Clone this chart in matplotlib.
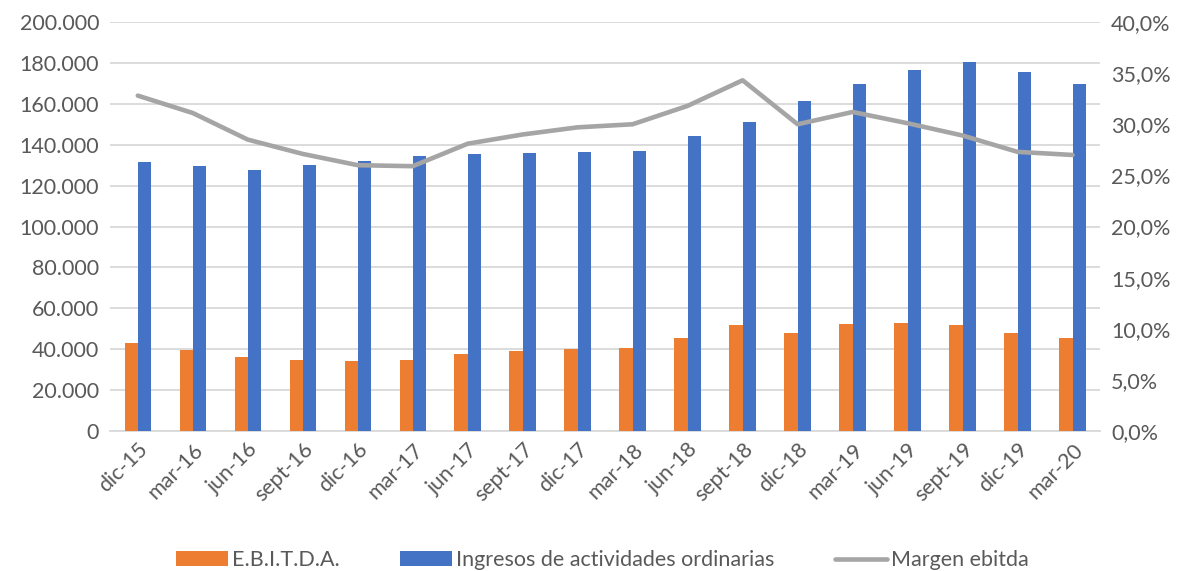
import matplotlib
matplotlib.use("Agg")
import matplotlib.pyplot as plt
from matplotlib.ticker import FuncFormatter, MultipleLocator
import numpy as np

# data
periods = ["dic-15", "mar-16", "jun-16", "sept-16", "dic-16", "mar-17", "jun-17",
           "sept-17", "dic-17", "mar-18", "jun-18", "sept-18", "dic-18", "mar-19",
           "jun-19", "sept-19", "dic-19", "mar-20"]
ebitda = [42900, 39800, 36200, 34900, 34100, 34700, 37800, 39100, 40000,
          40600, 45500, 51800, 48200, 52600, 52800, 51700, 47800, 45600]
ingresos = [131400, 129400, 127500, 130200, 131900, 134600, 135600, 136100, 136300,
            136800, 144300, 151300, 161200, 169700, 176500, 180300, 175700, 169700]
margen = [32.8, 31.1, 28.5, 27.1, 26.0, 25.9, 28.1, 29.0, 29.7,
          30.0, 31.8, 34.3, 30.0, 31.2, 30.1, 28.9, 27.3, 27.0]

plt.rcParams["font.family"] = ["Lato", "DejaVu Sans"]
txt = "#595959"

fig = plt.figure(figsize=(11.86, 5.71), dpi=100)
ax = fig.add_axes([0.093, 0.245, 0.8345, 0.7165])
ax2 = ax.twinx()

x = np.arange(len(periods))
w = 0.24
ax.bar(x - w / 2, ebitda, width=w, color="#ED7D31", label="E.B.I.T.D.A.", zorder=3)
ax.bar(x + w / 2, ingresos, width=w, color="#4472C4",
       label="Ingresos de actividades ordinarias", zorder=3)
ax2.plot(x, margen, color="#A5A5A5", lw=3.3, solid_capstyle="round",
         label="Margen ebitda", zorder=4)

ax.set_xlim(-0.5, len(periods) - 0.5)
ax.set_ylim(0, 200000)
ax2.set_ylim(0, 40)
ax.yaxis.set_major_locator(MultipleLocator(20000))
ax2.yaxis.set_major_locator(MultipleLocator(5))
ax.yaxis.set_major_formatter(FuncFormatter(lambda v, p: f"{int(v):,}".replace(",", ".")))
ax2.yaxis.set_major_formatter(FuncFormatter(lambda v, p: f"{v:.1f}%".replace(".", ",")))

ax.grid(axis="y", color="#D9D9D9", lw=1.3, zorder=0)
ax.set_axisbelow(True)
for a in (ax, ax2):
    for s in a.spines.values():
        s.set_visible(False)
    a.tick_params(length=0, labelsize=15.5, labelcolor=txt)
ax.spines["bottom"].set_visible(True)
ax.spines["bottom"].set_color("#D9D9D9")
ax.spines["bottom"].set_linewidth(1.3)
ax.tick_params(axis="y", pad=8)
ax2.tick_params(axis="y", pad=8)

ax.set_xticks(x)
ax.set_xticklabels(periods, rotation=45, ha="right", rotation_mode="anchor")
ax.tick_params(axis="x", pad=6)

h1, l1 = ax.get_legend_handles_labels()
h2, l2 = ax2.get_legend_handles_labels()
fig.legend(h1 + h2, l1 + l2, loc="lower center", bbox_to_anchor=(0.508, -0.033), ncol=3,
           frameon=False, fontsize=15.5, labelcolor=txt, handlelength=2.4,
           handletextpad=0.2, columnspacing=2.8)

fig.savefig("out.png", dpi=100)
